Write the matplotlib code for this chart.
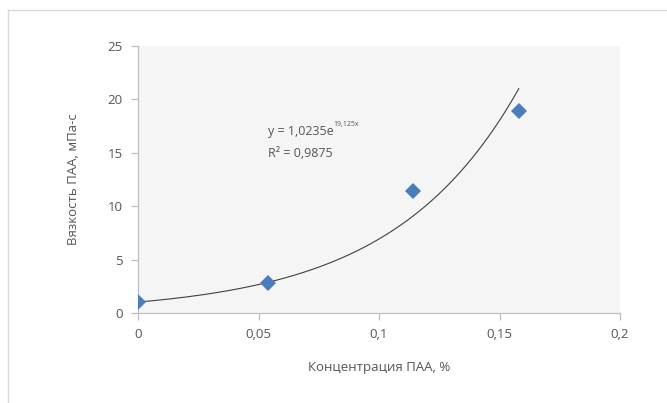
import numpy as np
import matplotlib
matplotlib.use("Agg")
import matplotlib.pyplot as plt
from matplotlib.lines import Line2D

plt.rcParams['font.family'] = ['Open Sans', 'DejaVu Sans']

# data
conc = [0.0, 0.054, 0.114, 0.158]
visc = [1.06, 2.8, 11.45, 18.95]

# trendline coefficients as printed on the chart
a_coef = 1.0235
b_coef = 19.125
eq_text = "y = 1,0235e"
eq_sup = "19,125x"
r2_text = "R² = 0,9875"

x_ticks = [0, 0.05, 0.1, 0.15, 0.2]
x_labels = ["0", "0,05", "0,1", "0,15", "0,2"]
y_ticks = [0, 5, 10, 15, 20, 25]

txt = "#555555"
axc = "#bfbfbf"

fig = plt.figure(figsize=(6.67, 4.03), dpi=100)
ax = fig.add_axes([138/667, 1 - 313/403, 482/667, 267/403])
ax.set_facecolor("#f5f5f5")

xs = np.linspace(0, conc[-1], 200)
ax.plot(xs, a_coef * np.exp(b_coef * xs), color="#404040", lw=0.8, zorder=2)
ax.plot(conc, visc, linestyle="none", marker="D", ms=8, color="#4a7ebb",
        markeredgewidth=0, zorder=3)

ax.set_xlim(0, 0.2)
ax.set_ylim(0, 25)
ax.set_xticks(x_ticks)
ax.set_xticklabels(x_labels)
ax.set_yticks(y_ticks)

for s in ["top", "right"]:
    ax.spines[s].set_visible(False)
for s in ["left", "bottom"]:
    ax.spines[s].set_color(axc)
    ax.spines[s].set_linewidth(0.9)
ax.tick_params(colors=axc, labelcolor=txt, labelsize=9.5, length=5, width=0.9)
ax.tick_params(axis="x", pad=6)
ax.tick_params(axis="y", pad=6)

ax.set_xlabel("Концентрация ПАА, %", color=txt, fontsize=9.5, labelpad=14)
ax.set_ylabel("Вязкость ПАА, мПа-с", color=txt, fontsize=9.5, labelpad=20)

t = ax.text(0.054, 17.0, eq_text, color=txt, fontsize=9, va="center")
ax.annotate(eq_sup, xy=(1, 0.75), xycoords=t, fontsize=5, color=txt, va="bottom")
ax.text(0.054, 14.9, r2_text, color=txt, fontsize=9, va="center")

# chart frame (top and left edges)
fig.add_artist(Line2D([8/667, 666/667], [1 - 10/403, 1 - 10/403], color="#d9d9d9", lw=1))
fig.add_artist(Line2D([8/667, 8/667], [1 - 10/403, 0], color="#d9d9d9", lw=1))

fig.savefig("out.png", dpi=100)
